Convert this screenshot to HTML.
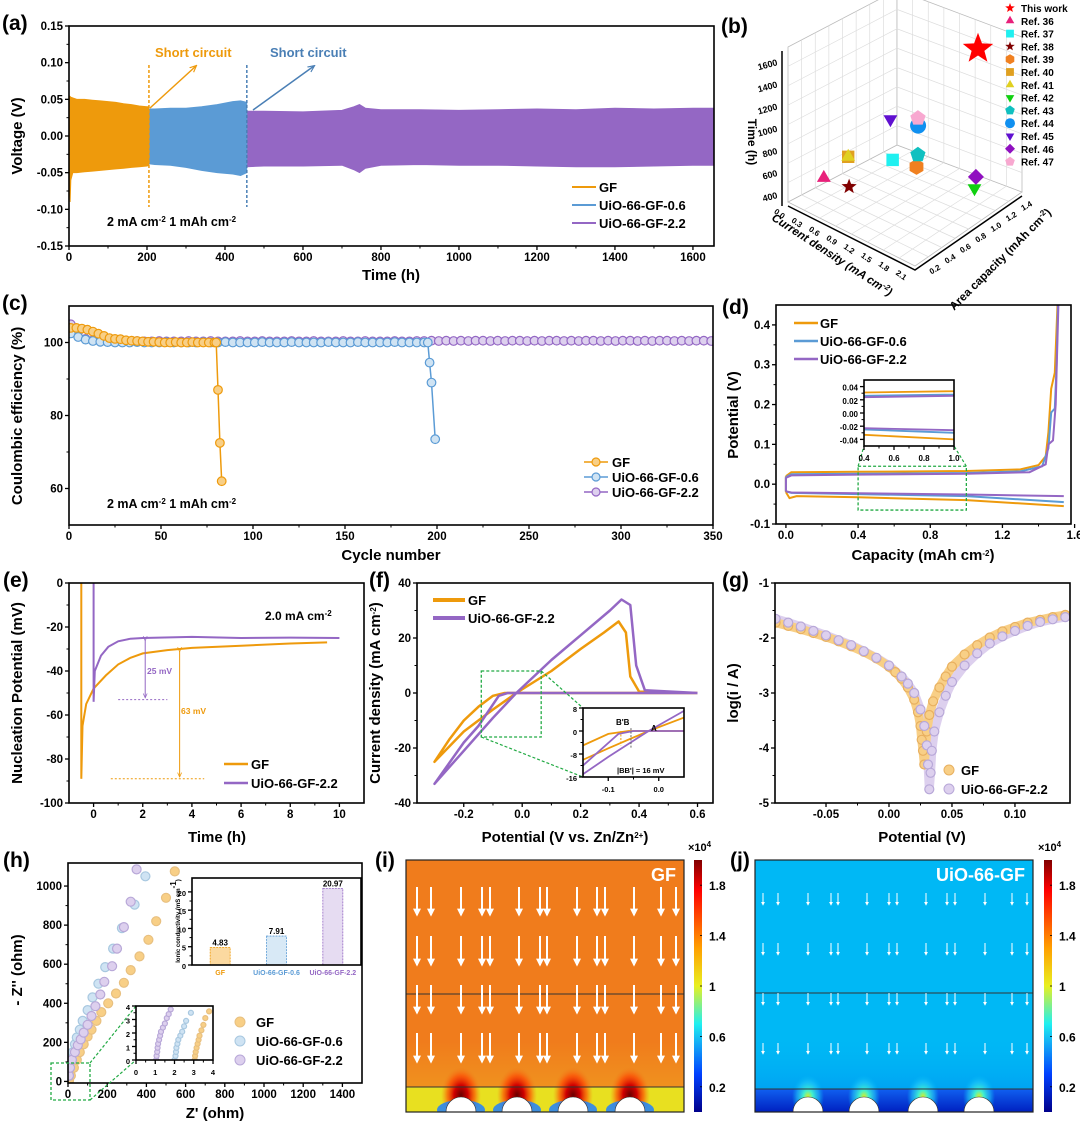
<!DOCTYPE html>
<html><head><meta charset="utf-8"><title>Figure</title>
<style>
html,body{margin:0;padding:0;background:#fff;}
svg{display:block;font-family:"Liberation Sans",Arial,sans-serif;font-weight:bold;}
</style></head>
<body>
<svg id="fig" xmlns="http://www.w3.org/2000/svg" width="1080" height="1129" viewBox="0 0 1080 1129">
<defs>
<linearGradient id="jet" x1="0" y1="0" x2="0" y2="1">
<stop offset="0" stop-color="#800000"/><stop offset="0.12" stop-color="#ff0000"/><stop offset="0.35" stop-color="#ffa000"/><stop offset="0.5" stop-color="#e8f020"/><stop offset="0.65" stop-color="#20f0f0"/><stop offset="0.85" stop-color="#0040ff"/><stop offset="1" stop-color="#00008a"/>
</linearGradient>
<radialGradient id="hotspot"><stop offset="0" stop-color="#6a0000"/><stop offset="0.35" stop-color="#d00000"/><stop offset="0.7" stop-color="#ff4000" stop-opacity="0.6"/><stop offset="1" stop-color="#f07c1c" stop-opacity="0"/></radialGradient>
<radialGradient id="coolspot"><stop offset="0" stop-color="#e0f020"/><stop offset="0.3" stop-color="#40f0d0"/><stop offset="0.7" stop-color="#20c8f8" stop-opacity="0.6"/><stop offset="1" stop-color="#00b8f5" stop-opacity="0"/></radialGradient>
<linearGradient id="ibottom" x1="0" y1="0" x2="0" y2="1"><stop offset="0" stop-color="#f0a020" stop-opacity="0"/><stop offset="1" stop-color="#f0a020"/></linearGradient>
<linearGradient id="jbottom" x1="0" y1="0" x2="0" y2="1"><stop offset="0" stop-color="#1060f0"/><stop offset="1" stop-color="#0020c0"/></linearGradient>
<linearGradient id="jmid" x1="0" y1="0" x2="0" y2="1"><stop offset="0" stop-color="#00b8f5" stop-opacity="0"/><stop offset="1" stop-color="#0090f0"/></linearGradient>
<marker id="ahw" viewBox="0 0 10 10" refX="8" refY="5" markerWidth="4" markerHeight="4" orient="auto"><path d="M0,0 L10,5 L0,10 z" fill="#fff"/></marker>
<marker id="ahs" viewBox="0 0 10 10" refX="8" refY="5" markerWidth="5" markerHeight="5" orient="auto"><path d="M0,1 L9,5 L0,9" fill="none" stroke="context-stroke" stroke-width="1.5"/></marker>
</defs>
</svg>
<script>
// ---------- data ----------
const aGFt=[0,3,5,10,20,40,60,80,100,120,140,160,180,200,205];
const aGFup=[0.055,0.054,0.053,0.052,0.05,0.05,0.049,0.048,0.047,0.046,0.044,0.043,0.041,0.04,0.04];
const aGFlo=[-0.05,-0.09,-0.06,-0.05,-0.05,-0.049,-0.048,-0.047,-0.046,-0.045,-0.044,-0.043,-0.042,-0.041,-0.04];
const aBt=[205,220,260,300,340,380,420,440,456];
const aBup=[0.037,0.037,0.038,0.038,0.040,0.043,0.047,0.048,0.046];
const aBlo=[-0.038,-0.039,-0.040,-0.043,-0.047,-0.05,-0.052,-0.054,-0.05];
const aPt=[456,500,600,700,730,745,760,800,900,1000,1100,1200,1300,1400,1500,1600,1654];
const aPup=[0.034,0.034,0.033,0.035,0.040,0.043,0.038,0.036,0.036,0.035,0.036,0.037,0.036,0.038,0.037,0.038,0.038];
const aPlo=[-0.042,-0.041,-0.041,-0.04,-0.046,-0.050,-0.044,-0.04,-0.039,-0.04,-0.04,-0.041,-0.042,-0.042,-0.041,-0.04,-0.04];
const aXticks=[0,200,400,600,800,1000,1200,1400,1600];
const aYticks=[-0.15,-0.10,-0.05,0,0.05,0.10,0.15];
const aYlabels=["-0.15","-0.10","-0.05","0.00","0.05","0.10","0.15"];

const refNames=["This work","Ref. 36","Ref. 37","Ref. 38","Ref. 39","Ref. 40","Ref. 41","Ref. 42","Ref. 43","Ref. 44","Ref. 45","Ref. 46","Ref. 47"];
const refShapes=["star","tri","sq","star","hex","sq","tri","dtri","pent","circ","dtri","diam","pent"];
const refColors=["#ff0000","#e8207a","#20f0f0","#800000","#f08020","#e0a020","#e0d020","#10d010","#10c0c0","#1090f0","#6010d0","#9010c0","#f8a8d0"];
const refCD=[1.85,0.25,0.92,0.55,1.1,0.59,0.59,1.83,1.18,1.32,0.95,1.84,1.29];
const refAC=[1.15,0.37,0.75,0.47,0.92,0.43,0.43,1.12,0.88,0.78,0.70,1.13,0.80];
const refT=[1650,450,600,400,500,700,700,400,650,1000,1000,500,1050];

const cGFcyc=[1,4,7,10,13,16,19,22,25,28,31,34,37,40,43,46,49,52,55,58,61,64,67,70,73,76,79,80,81,82,83];
const cGFval=[104,104,103.8,103.5,103,102.4,101.8,101.2,101,100.9,100.6,100.5,100.4,100.3,100.2,100.2,100.1,100,100,100.1,100,100,100.1,100,100,100,100,100,87,72.5,62];
const cBcyc=[1,5,9,13,17,21,25,29,33,37,41,45,49,53,57,61,65,69,73,77,81,85,89,93,97,101,105,109,113,117,121,125,129,133,137,141,145,149,153,157,161,165,169,173,177,181,185,189,193,195,196,197,199];
const cBval=[102.5,101.5,100.8,100.4,100.2,100.1,100,100,100,100.1,100,100,100,100.1,100,100,100,100,100.1,100,100,100.1,100,100,100,100,100.1,100,100,100,100.1,100,100,100,100,100.1,100,100,100,100.1,100,100,100,100,100.1,100,100,100,100,100,94.5,89,73.5];
const cPcyc=[1,5,9,13,17,21,25,29,33,37,41,45,49,53,57,61,65,69,73,77,81,85,89,93,97,101,105,109,113,117,121,125,129,133,137,141,145,149,153,157,161,165,169,173,177,181,185,189,193,197,201,205,209,213,217,221,225,229,233,237,241,245,249,253,257,261,265,269,273,277,281,285,289,293,297,301,305,309,313,317,321,325,329,333,337,341,345,349];
const cPval=[105,103,101,100.6,100.5,100.4,100.4,100.3,100.3,100.4,100.3,100.3,100.4,100.3,100.3,100.3,100.4,100.3,100.3,100.4,100.3,100.3,100.3,100.4,100.3,100.3,100.4,100.3,100.3,100.3,100.4,100.3,100.3,100.4,100.3,100.3,100.3,100.4,100.3,100.3,100.4,100.3,100.3,100.3,100.4,100.3,100.3,100.4,100.4,100.5,100.4,100.5,100.4,100.5,100.4,100.5,100.5,100.4,100.5,100.4,100.5,100.5,100.4,100.5,100.4,100.5,100.5,100.4,100.5,100.4,100.5,100.5,100.4,100.5,100.4,100.5,100.5,100.4,100.5,100.4,100.5,100.5,100.4,100.5,100.4,100.5,100.5,100.4];

const dGFup=[[0,0.02],[0.03,0.03],[0.4,0.031],[1.0,0.033],[1.3,0.037],[1.4,0.048],[1.44,0.07],[1.455,0.13],[1.47,0.24],[1.49,0.28],[1.505,0.45]];
const dGFlo=[[0,-0.02],[0.02,-0.035],[0.06,-0.03],[0.4,-0.033],[1.0,-0.04],[1.54,-0.055]];
const dBup=[[0,0.018],[0.03,0.025],[0.4,0.026],[1.0,0.028],[1.3,0.032],[1.42,0.045],[1.455,0.09],[1.47,0.18],[1.49,0.19],[1.5,0.3],[1.508,0.45]];
const dBlo=[[0,-0.018],[0.03,-0.022],[0.4,-0.025],[1.0,-0.03],[1.54,-0.045]];
const dPup=[[0,0.016],[0.03,0.022],[0.4,0.024],[1.0,0.026],[1.35,0.03],[1.44,0.05],[1.455,0.1],[1.48,0.11],[1.495,0.2],[1.51,0.45]];
const dPlo=[[0,-0.018],[0.03,-0.021],[0.4,-0.023],[1.0,-0.026],[1.54,-0.03]];

const eGF=[[-0.5,0],[-0.5,-89],[-0.45,-65],[-0.3,-55],[0,-48],[0.5,-42],[1,-37],[1.5,-34],[2,-32],[3,-30.5],[4,-29.5],[6,-28.5],[8,-27.5],[9.5,-27]];
const ePur=[[0,0],[0,-54],[0.05,-40],[0.3,-33],[0.6,-29],[1,-26.5],[1.5,-25.3],[2,-25],[4,-24.5],[6,-25],[8,-24.8],[10,-25]];

const fGF=[[0.6,0],[-0.06,0],[-0.1,-1],[-0.15,-5],[-0.2,-10],[-0.25,-17],[-0.3,-25],[-0.2,-14],[-0.1,-6],[-0.02,0],[0.1,8],[0.2,16],[0.28,22],[0.33,26],[0.355,22],[0.37,6],[0.4,0.5],[0.6,0]];
const fPur=[[0.6,0],[-0.05,0],[-0.08,-1],[-0.15,-12],[-0.2,-18],[-0.3,-33],[-0.2,-21],[-0.1,-9],[-0.02,0],[0.1,12],[0.2,21],[0.3,30],[0.34,34],[0.37,32],[0.39,10],[0.42,1],[0.6,0]];

const gGF=[[-0.09,-1.72],[-0.08,-1.78],[-0.07,-1.84],[-0.06,-1.91],[-0.05,-1.98],[-0.04,-2.06],[-0.03,-2.15],[-0.02,-2.25],[-0.01,-2.37],[0,-2.52],[0.005,-2.62],[0.01,-2.74],[0.015,-2.9],[0.02,-3.12],[0.023,-3.35],[0.025,-3.6],[0.026,-3.85],[0.027,-4.05],[0.028,-4.3],[0.03,-3.7],[0.032,-3.4],[0.035,-3.15],[0.04,-2.9],[0.045,-2.7],[0.05,-2.52],[0.06,-2.3],[0.07,-2.13],[0.08,-1.99],[0.09,-1.88],[0.1,-1.8],[0.11,-1.72],[0.12,-1.67],[0.13,-1.62],[0.14,-1.58]];
const gPur=[[-0.09,-1.65],[-0.08,-1.72],[-0.07,-1.79],[-0.06,-1.87],[-0.05,-1.95],[-0.04,-2.04],[-0.03,-2.13],[-0.02,-2.24],[-0.01,-2.36],[0,-2.5],[0.01,-2.7],[0.015,-2.83],[0.02,-3.0],[0.025,-3.3],[0.028,-3.6],[0.03,-3.95],[0.031,-4.3],[0.032,-4.75],[0.033,-4.45],[0.034,-4.05],[0.036,-3.7],[0.04,-3.35],[0.045,-3.05],[0.05,-2.8],[0.06,-2.5],[0.07,-2.28],[0.08,-2.1],[0.09,-1.97],[0.1,-1.87],[0.11,-1.78],[0.12,-1.71],[0.13,-1.66],[0.14,-1.62]];

const hGF=[[5,5],[15,30],[30,70],[45,110],[60,150],[80,190],[100,230],[120,265],[145,310],[170,355],[205,400],[245,450],[285,505],[320,570],[365,640],[410,725],[450,820],[500,940],[545,1075]];
const hB=[[5,30],[10,70],[15,110],[25,150],[35,190],[45,225],[60,265],[75,310],[100,365],[125,430],[155,500],[190,585],[230,680],[275,785],[340,905],[395,1050]];
const hP=[[5,30],[10,70],[20,110],[35,150],[50,185],[65,215],[80,250],[100,290],[120,335],[140,385],[165,445],[185,510],[225,590],[250,680],[285,790],[320,920],[350,1085]];
const hiGF=[[3.05,0],[3.07,0.3],[3.1,0.6],[3.15,0.9],[3.2,1.2],[3.25,1.5],[3.3,1.8],[3.4,2.2],[3.5,2.6],[3.6,3.1],[3.8,3.6]];
const hiB=[[2,0],[2.05,0.3],[2.08,0.6],[2.1,0.9],[2.15,1.2],[2.2,1.5],[2.3,1.8],[2.4,2.1],[2.5,2.5],[2.6,2.9],[2.85,3.5]];
const hiP=[[1.05,0],[1.07,0.3],[1.1,0.6],[1.12,0.9],[1.15,1.2],[1.2,1.5],[1.25,1.8],[1.3,2.1],[1.4,2.4],[1.5,2.7],[1.6,3.1],[1.7,3.4],[1.8,3.75]];
const barCats=["GF","UiO-66-GF-0.6","UiO-66-GF-2.2"];
const barVals=[4.83,7.91,20.97];
const barLabels=["4.83","7.91","20.97"];
const cbarLabels=["1.8","1.4","1","0.6","0.2"];
const cbarVals=[1.8,1.4,1.0,0.6,0.2];

// ---------- helpers ----------
const NS='http://www.w3.org/2000/svg';
const svg=document.getElementById('fig');
function mk(tag,attrs,name,parent){
  const el=document.createElementNS(NS,tag);
  for(const k in attrs) el.setAttribute(k,attrs[k]);
  
  
  (parent||svg).appendChild(el);
  return el;
}
function T(x,y,html,o,name,parent){
  o=o||{};
  const el=mk('text',{x:x,y:y,'font-size':o.fs||12,'text-anchor':o.anchor||'start',fill:o.fill||'#000','font-style':o.italic?'italic':'normal',transform:o.rot!==undefined?`rotate(${o.rot} ${x} ${y})`:''},name,parent);
  el.innerHTML=html;
  return el;
}
const sup=s=>`<tspan baseline-shift="super" font-size="8">${s}</tspan>`;
const lin=(d0,d1,r0,r1)=>v=>r0+(v-d0)*(r1-r0)/(d1-d0);
let clipId=0;
function panel(p){
  const g=mk('g',{},p.name);
  p.sx=lin(p.xd[0],p.xd[1],p.x0,p.x1);
  p.sy=lin(p.yd[0],p.yd[1],p.y1,p.y0);
  const id='clip'+(clipId++);
  const cp=mk('clipPath',{id:id},p.name+'-clip',g);
  mk('rect',{x:p.x0,y:p.y0,width:p.x1-p.x0,height:p.y1-p.y0},p.name+'-clip-rect',cp);
  p.g=g; p.plot=mk('g',{'clip-path':`url(#${id})`},p.name+'-plot-area',g);
  const fs=p.fs||11.5;
  const xa=mk('g',{},p.name+'-x-axis',g);
  p.xt.forEach((v,i)=>{
    const x=p.sx(v);
    mk('line',{x1:x,y1:p.y1,x2:x,y2:p.y1+4,stroke:'#000','stroke-width':1.3},'x-tick',xa);
    T(x,p.y1+15,p.xl[i],{fs:fs,anchor:'middle'},'x-tick-label',xa);
    if(i<p.xt.length-1){const xm=p.sx((v+p.xt[i+1])/2);
      if(xm<p.x1) mk('line',{x1:xm,y1:p.y1,x2:xm,y2:p.y1+2.5,stroke:'#000','stroke-width':1},'x-minor-tick',xa);}
  });
  const ya=mk('g',{},p.name+'-y-axis',g);
  p.yt.forEach((v,i)=>{
    const y=p.sy(v);
    mk('line',{x1:p.x0-4,y1:y,x2:p.x0,y2:y,stroke:'#000','stroke-width':1.3},'y-tick',ya);
    T(p.x0-6,y+4,p.yl[i],{fs:fs,anchor:'end'},'y-tick-label',ya);
    if(i<p.yt.length-1){const ym=p.sy((v+p.yt[i+1])/2);
      mk('line',{x1:p.x0-2.5,y1:ym,x2:p.x0,y2:ym,stroke:'#000','stroke-width':1},'y-minor-tick',ya);}
  });
  if(p.xtitle) T(p.xtitle[1],p.xtitle[2],p.xtitle[0],{fs:p.tfs||15,anchor:'middle'},p.name+'-x-axis-title',g);
  if(p.ytitle) T(p.ytitle[1],p.ytitle[2],p.ytitle[0],{fs:p.tfs||15,anchor:'middle',rot:-90},p.name+'-y-axis-title',g);
  p.frame=()=>mk('rect',{x:p.x0,y:p.y0,width:p.x1-p.x0,height:p.y1-p.y0,fill:'none',stroke:'#000','stroke-width':1.6},p.name+'-frame',g);
  return p;
}
function path(p,pts,attrs,name,parent){
  const d=pts.map((q,i)=>(i?'L':'M')+p.sx(q[0]).toFixed(1)+','+p.sy(q[1]).toFixed(1)).join(' ');
  return mk('path',Object.assign({d:d,fill:'none'},attrs),name,parent||p.plot);
}
function label(x,y,s,name){T(x,y,s,{fs:21},name);}

const OR='#ee9a0c', BL='#5b9bd5', PU='#9467c4';
const ORl='#f8cf86', BLl='#cfe3f3', PUl='#ddd0ee';

// ---------- (a) ----------
label(2,30,'(a)','panel-label-a');
const A=panel({name:'panel-a',x0:69,x1:714,y0:26,y1:246,xd:[0,1654],yd:[-0.15,0.15],xt:aXticks,xl:aXticks.map(String),yt:aYticks,yl:aYlabels,xtitle:['Time (h)',391,280],ytitle:['Voltage (V)',22,136]});
function band(t,up,lo,col,name){
  const pts=t.map((v,i)=>[v,up[i]]).concat(t.map((v,i)=>[v,lo[i]]).reverse());
  const d=pts.map((q,i)=>(i?'L':'M')+A.sx(q[0]).toFixed(1)+','+A.sy(q[1]).toFixed(1)).join(' ')+'Z';
  mk('path',{d:d,fill:col,stroke:col,'stroke-width':0.8},name,A.plot);
}
band(aPt,aPup,aPlo,PU,'series-uio-66-gf-2.2');
band(aBt,aBup,aBlo,BL,'series-uio-66-gf-0.6');
band(aGFt,aGFup,aGFlo,OR,'series-gf');
A.frame();
mk('line',{x1:A.sx(205),y1:65,x2:A.sx(205),y2:207,stroke:OR,'stroke-width':1.5,'stroke-dasharray':'3,2'},'short-circuit-line-gf');
mk('line',{x1:A.sx(456),y1:65,x2:A.sx(456),y2:207,stroke:'#4a7fb5','stroke-width':1.5,'stroke-dasharray':'3,2'},'short-circuit-line-uio-0.6');
mk('line',{x1:150,y1:108,x2:196,y2:66,stroke:OR,'stroke-width':1.5,'marker-end':'url(#ahs)'},'short-circuit-arrow-gf');
mk('line',{x1:253,y1:110,x2:314,y2:66,stroke:'#4a7fb5','stroke-width':1.5,'marker-end':'url(#ahs)'},'short-circuit-arrow-uio');
T(155,57,'Short circuit',{fs:13,fill:OR},'short-circuit-label-gf');
T(270,57,'Short circuit',{fs:13,fill:'#4a7fb5'},'short-circuit-label-uio');
T(107,226,'2 mA cm'+sup('-2')+'  1 mAh cm'+sup('-2'),{fs:12.5},'condition-label-a');
[[OR,'GF'],[BL,'UiO-66-GF-0.6'],[PU,'UiO-66-GF-2.2']].forEach((l,i)=>{
  mk('line',{x1:572,y1:187+18*i,x2:596,y2:187+18*i,stroke:l[0],'stroke-width':2},'legend-line');
  T(599,192+18*i,l[1],{fs:13},'legend-entry');
});

// ---------- (b) ----------
label(721,33,'(b)','panel-label-b');
const gb=mk('g',{},'panel-b-3d');
const PA=[788,202],PB=[915,266],PC=[1022,192],PD=[897,145],H=155;
function poly(pts,attrs,name){mk('polygon',Object.assign({points:pts.map(p=>p.join(',')).join(' ')},attrs),name,gb);}
const up=p=>[p[0],p[1]-H];
poly([PA,PB,PC,PD],{fill:'#fff',stroke:'#bbb','stroke-width':0.8},'floor');
poly([PA,PD,up(PD),up(PA)],{fill:'#fff',stroke:'#bbb','stroke-width':0.8},'left-wall');
poly([PD,PC,up(PC),up(PD)],{fill:'#fff',stroke:'#bbb','stroke-width':0.8},'right-wall');
const L=(p,q,t)=>[p[0]+(q[0]-p[0])*t,p[1]+(q[1]-p[1])*t];
for(let i=1;i<8;i++){const t=i/8;
  let a=L(PA,PB,t),b=L(PD,PC,t); mk('line',{x1:a[0],y1:a[1],x2:b[0],y2:b[1],stroke:'#ddd','stroke-width':0.7},'grid-line',gb);
  a=L(PA,PD,t);b=L(PB,PC,t); mk('line',{x1:a[0],y1:a[1],x2:b[0],y2:b[1],stroke:'#ddd','stroke-width':0.7},'grid-line',gb);
  a=L(PA,PD,t); mk('line',{x1:a[0],y1:a[1],x2:a[0],y2:a[1]-H,stroke:'#ddd','stroke-width':0.7},'grid-line',gb);
  a=L(PD,PC,t); mk('line',{x1:a[0],y1:a[1],x2:a[0],y2:a[1]-H,stroke:'#ddd','stroke-width':0.7},'grid-line',gb);
  const h=H*t; mk('polyline',{points:`${PA[0]},${PA[1]-h} ${PD[0]},${PD[1]-h} ${PC[0]},${PC[1]-h}`,fill:'none',stroke:'#ddd','stroke-width':0.7},'grid-line',gb);
}
mk('line',{x1:PA[0]-6,y1:PA[1]+4,x2:PA[0]-6,y2:PA[1]-H+4,stroke:'#000','stroke-width':1.5},'time-axis',gb);
mk('polyline',{points:`${PA[0]},${PA[1]+4} ${PB[0]},${PB[1]+4} ${PC[0]},${PC[1]+4}`,fill:'none',stroke:'#000','stroke-width':1.5},'floor-axes',gb);
const bTimeTicks=[400,600,800,1000,1200,1400,1600];
const bTy=t=>PA[1]+4-(t-300)*(H/1400);
bTimeTicks.forEach(t=>T(778,bTy(t)+3,String(t),{fs:9,anchor:'end',rot:-15},'time-tick-label',gb));
const cdTicks=['0.0','0.3','0.6','0.9','1.2','1.5','1.8','2.1'];
cdTicks.forEach((s,i)=>{const p=L(PA,PB,i/7.3);T(p[0]-10,p[1]+14,s,{fs:8,anchor:'middle',rot:35},'current-density-tick-label',gb);});
const acTicks=['0.2','0.4','0.6','0.8','1.0','1.2','1.4'];
acTicks.forEach((s,i)=>{const p=L(PB,PC,(i+0.6)/7);T(p[0]+12,p[1]+12,s,{fs:8,anchor:'middle',rot:-30},'area-capacity-tick-label',gb);});
T(748,142,'Time (h)',{fs:12,anchor:'middle',rot:90},'time-axis-title',gb);
T(830,258,'Current density (mA cm'+sup('-2')+')',{fs:11.5,anchor:'middle',rot:33,italic:true},'current-density-axis-title',gb);
T(1003,262,'Area capacity (mAh cm'+sup('-2')+')',{fs:11.5,anchor:'middle',rot:-45},'area-capacity-axis-title',gb);
function proj(cd,ac,t){const a=cd/2.2,b=(ac-0.1)/1.35;
  return [PA[0]+127*a+107*b, PA[1]+64*a-74*b-(t-300)*(H/1400)];}
function marker(type,cx,cy,r,col,name,parent){
  let pts=[];
  const reg=(n,rot,rr)=>{for(let i=0;i<n;i++){const a=rot+i*2*Math.PI/n;pts.push([cx+rr*Math.cos(a),cy+rr*Math.sin(a)]);}};
  if(type==='circ'){mk('circle',{cx:cx,cy:cy,r:r,fill:col},name,parent);return;}
  if(type==='star'){for(let i=0;i<10;i++){const a=-Math.PI/2+i*Math.PI/5,rr=i%2?r*0.42:r;pts.push([cx+rr*Math.cos(a),cy+rr*Math.sin(a)]);}}
  else if(type==='tri') reg(3,-Math.PI/2,r);
  else if(type==='dtri') reg(3,Math.PI/2,r);
  else if(type==='sq') reg(4,Math.PI/4,r*1.1);
  else if(type==='diam') reg(4,0,r);
  else if(type==='hex') reg(6,Math.PI/6,r);
  else if(type==='pent') reg(5,-Math.PI/2,r);
  mk('polygon',{points:pts.map(p=>p.map(v=>v.toFixed(1)).join(',')).join(' '),fill:col},name,parent);
}
refNames.forEach((n,i)=>{const p=proj(refCD[i],refAC[i],refT[i]);
  marker(refShapes[i],p[0],p[1],i===0?16:8,refColors[i],'marker-'+n.toLowerCase().replace(/[ .]+/g,'-'),gb);});
refNames.forEach((n,i)=>{const y=8+12.8*i;
  marker(refShapes[i],1010,y,5,refColors[i],'legend-marker',gb);
  T(1021,y+4,n,{fs:10},'legend-entry',gb);});

// ---------- (c) ----------
label(2,310,'(c)','panel-label-c');
const C=panel({name:'panel-c',x0:69,x1:713,y0:306,y1:525,xd:[0,350],yd:[50,110],xt:[0,50,100,150,200,250,300,350],xl:['0','50','100','150','200','250','300','350'],yt:[60,80,100],yl:['60','80','100'],xtitle:['Cycle number',391,560],ytitle:['Coulombic efficiency (%)',22,416]});
function circles(p,cx,cy,r,fill,stroke,name,parent){cx.forEach((v,i)=>mk('circle',{cx:p.sx(v).toFixed(1),cy:p.sy(cy[i]).toFixed(1),r:r,fill:fill,stroke:stroke,'stroke-width':1.2},name,parent||p.plot));}
path(C,cPcyc.map((c,i)=>[c,cPval[i]]),{stroke:PU,'stroke-width':1.5},'series-uio-66-gf-2.2-line');
circles(C,cPcyc,cPval,4.3,PUl,PU,'point-uio-66-gf-2.2');
path(C,cBcyc.map((c,i)=>[c,cBval[i]]),{stroke:BL,'stroke-width':1.5},'series-uio-66-gf-0.6-line');
circles(C,cBcyc,cBval,4.3,BLl,BL,'point-uio-66-gf-0.6');
path(C,cGFcyc.map((c,i)=>[c,cGFval[i]]),{stroke:OR,'stroke-width':1.5},'series-gf-line');
circles(C,cGFcyc,cGFval,4.3,ORl,OR,'point-gf');
C.frame();
T(107,508,'2 mA cm'+sup('-2')+'  1 mAh cm'+sup('-2'),{fs:12.5},'condition-label-c');
[[OR,ORl,'GF'],[BL,BLl,'UiO-66-GF-0.6'],[PU,PUl,'UiO-66-GF-2.2']].forEach((l,i)=>{const y=462+15*i;
  mk('line',{x1:584,y1:y,x2:608,y2:y,stroke:l[0],'stroke-width':1.5},'legend-line');
  mk('circle',{cx:596,cy:y,r:4,fill:l[1],stroke:l[0],'stroke-width':1.2},'legend-marker');
  T(612,y+5,l[2],{fs:13},'legend-entry');});

// ---------- (d) ----------
label(722,314,'(d)','panel-label-d');
const D=panel({name:'panel-d',x0:776,x1:1071,y0:305,y1:524,xd:[-0.055,1.58],yd:[-0.1,0.45],xt:[0,0.4,0.8,1.2,1.6],xl:['0.0','0.4','0.8','1.2','1.6'],yt:[-0.1,0,0.1,0.2,0.3,0.4],yl:['-0.1','0.0','0.1','0.2','0.3','0.4'],xtitle:['Capacity (mAh cm'+sup('-2')+')',923,560],ytitle:['Potential (V)',738,415]});
[[dGFup,dGFlo,OR,'gf'],[dBup,dBlo,BL,'uio-66-gf-0.6'],[dPup,dPlo,PU,'uio-66-gf-2.2']].forEach(s=>{
  path(D,s[0],{stroke:s[2],'stroke-width':2},'series-'+s[3]+'-charge');
  path(D,s[1],{stroke:s[2],'stroke-width':2},'series-'+s[3]+'-discharge');
  path(D,[s[0][0],s[1][0]],{stroke:s[2],'stroke-width':2},'series-'+s[3]+'-start');
});
D.frame();
mk('rect',{x:D.sx(0.4),y:D.sy(0.045),width:D.sx(1.0)-D.sx(0.4),height:D.sy(-0.065)-D.sy(0.045),fill:'none',stroke:'#22aa44','stroke-width':1.3,'stroke-dasharray':'3,2'},'zoom-box-d');
mk('line',{x1:D.sx(0.4),y1:D.sy(0.045),x2:864,y2:446,stroke:'#22aa44','stroke-width':1.2,'stroke-dasharray':'3,2'},'zoom-connector');
mk('line',{x1:D.sx(1.0),y1:D.sy(0.045),x2:954,y2:446,stroke:'#22aa44','stroke-width':1.2,'stroke-dasharray':'3,2'},'zoom-connector');
const DI=panel({name:'panel-d-inset',x0:864,x1:954,y0:380,y1:446,xd:[0.4,1.0],yd:[-0.05,0.05],xt:[0.4,0.6,0.8,1.0],xl:['0.4','0.6','0.8','1.0'],yt:[-0.04,-0.02,0,0.02,0.04],yl:['-0.04','-0.02','0.00','0.02','0.04'],fs:8});
mk('rect',{x:864,y:380,width:90,height:66,fill:'#fff'},'inset-bg',DI.plot);
[[dGFup,dGFlo,OR],[dBup,dBlo,BL],[dPup,dPlo,PU]].forEach(s=>{path(DI,s[0],{stroke:s[2],'stroke-width':1.8},'inset-charge');path(DI,s[1],{stroke:s[2],'stroke-width':1.8},'inset-discharge');});
DI.frame();
[[OR,'GF'],[BL,'UiO-66-GF-0.6'],[PU,'UiO-66-GF-2.2']].forEach((l,i)=>{const y=323+18*i;
  mk('line',{x1:794,y1:y,x2:818,y2:y,stroke:l[0],'stroke-width':2.5},'legend-line');
  T(820,y+5,l[1],{fs:13},'legend-entry');});

// ---------- (e) ----------
label(3,587,'(e)','panel-label-e');
const E=panel({name:'panel-e',x0:69,x1:364,y0:583,y1:803,xd:[-1,11],yd:[-100,0],xt:[0,2,4,6,8,10],xl:['0','2','4','6','8','10'],yt:[-100,-80,-60,-40,-20,0],yl:['-100','-80','-60','-40','-20','0'],xtitle:['Time (h)',217,842],ytitle:['Nucleation Potential (mV)',22,693]});
path(E,eGF,{stroke:OR,'stroke-width':2},'series-gf');
path(E,ePur,{stroke:PU,'stroke-width':2},'series-uio-66-gf-2.2');
E.frame();
mk('line',{x1:E.sx(1),y1:E.sy(-53),x2:E.sx(3),y2:E.sy(-53),stroke:PU,'stroke-width':1,'stroke-dasharray':'2,2'},'baseline-purple');
mk('line',{x1:E.sx(2.1),y1:E.sy(-26),x2:E.sx(2.1),y2:E.sy(-52),stroke:PU,'stroke-width':1,'marker-end':'url(#ahs)','marker-start':'url(#ahs)'},'overpotential-arrow-purple');
mk('line',{x1:E.sx(0.7),y1:E.sy(-89),x2:E.sx(4.5),y2:E.sy(-89),stroke:OR,'stroke-width':1,'stroke-dasharray':'2,2'},'baseline-orange');
mk('line',{x1:E.sx(3.5),y1:E.sy(-31),x2:E.sx(3.5),y2:E.sy(-88),stroke:OR,'stroke-width':1,'marker-end':'url(#ahs)','marker-start':'url(#ahs)'},'overpotential-arrow-orange');
T(147,674,'25 mV',{fs:8.5,fill:PU},'label-25mv');
T(181,714,'63 mV',{fs:8.5,fill:OR},'label-63mv');
T(265,620,'2.0 mA cm'+sup('-2'),{fs:12},'current-label-e');
[[OR,'GF'],[PU,'UiO-66-GF-2.2']].forEach((l,i)=>{const y=764+19*i;
  mk('line',{x1:224,y1:y,x2:248,y2:y,stroke:l[0],'stroke-width':2.5},'legend-line');
  T(251,y+5,l[1],{fs:13},'legend-entry');});

// ---------- (f) ----------
label(369,587,'(f)','panel-label-f');
const F=panel({name:'panel-f',x0:417,x1:713,y0:583,y1:803,xd:[-0.36,0.653],yd:[-40,40],xt:[-0.2,0,0.2,0.4,0.6],xl:['-0.2','0.0','0.2','0.4','0.6'],yt:[-40,-20,0,20,40],yl:['-40','-20','0','20','40'],xtitle:['Potential (V vs. Zn/Zn'+sup('2+')+')',565,842],ytitle:['Current density (mA cm'+sup('-2')+')',380,693]});
path(F,fGF,{stroke:OR,'stroke-width':2.5,'stroke-linejoin':'round'},'series-gf');
path(F,fPur,{stroke:PU,'stroke-width':2.5,'stroke-linejoin':'round'},'series-uio-66-gf-2.2');
F.frame();
const fbx0=F.sx(-0.14),fbx1=F.sx(0.065),fby0=F.sy(8),fby1=F.sy(-16);
mk('rect',{x:fbx0,y:fby0,width:fbx1-fbx0,height:fby1-fby0,fill:'none',stroke:'#22aa44','stroke-width':1.3,'stroke-dasharray':'3,2'},'zoom-box-f');
mk('line',{x1:fbx1,y1:fby0,x2:583,y2:708,stroke:'#22aa44','stroke-width':1.2,'stroke-dasharray':'3,2'},'zoom-connector');
mk('line',{x1:fbx0,y1:fby1,x2:583,y2:777,stroke:'#22aa44','stroke-width':1.2,'stroke-dasharray':'3,2'},'zoom-connector');
const FI=panel({name:'panel-f-inset',x0:583,x1:684,y0:708,y1:777,xd:[-0.15,0.05],yd:[-16,8],xt:[-0.1,0],xl:['-0.1','0.0'],yt:[-16,-8,0,8],yl:['-16','-8','0','8'],fs:7.5});
mk('rect',{x:583,y:708,width:101,height:69,fill:'#fff'},'inset-bg',FI.plot);
path(FI,fGF,{stroke:OR,'stroke-width':1.8},'inset-gf');
path(FI,fPur,{stroke:PU,'stroke-width':1.8},'inset-uio');
mk('line',{x1:FI.sx(-0.075),y1:FI.sy(0),x2:FI.sx(-0.075),y2:FI.sy(-5),stroke:OR,'stroke-width':1,'stroke-dasharray':'2,1.5'},'b-prime-marker');
mk('line',{x1:FI.sx(-0.055),y1:FI.sy(1),x2:FI.sx(-0.055),y2:FI.sy(-6),stroke:'#666','stroke-width':1,'stroke-dasharray':'2,1.5'},'b-marker');
FI.frame();
T(616,725,"B'B",{fs:8},'label-bb');
T(651,731,'A',{fs:8},'label-a');
T(617,773,"|BB'| = 16 mV",{fs:7.5},'label-bb-distance');
[[OR,'GF'],[PU,'UiO-66-GF-2.2']].forEach((l,i)=>{const y=600+18*i;
  mk('line',{x1:433,y1:y,x2:465,y2:y,stroke:l[0],'stroke-width':4},'legend-line');
  T(468,y+5,l[1],{fs:13},'legend-entry');});

// ---------- (g) ----------
label(722,587,'(g)','panel-label-g');
const G=panel({name:'panel-g',x0:775,x1:1070,y0:583,y1:803,xd:[-0.0905,0.1437],yd:[-5,-1],xt:[-0.05,0,0.05,0.1],xl:['-0.05','0.00','0.05','0.10'],yt:[-5,-4,-3,-2,-1],yl:['-5','-4','-3','-2','-1'],xtitle:['Potential (V)',922,842],ytitle:['log(i / A)',738,693]});
path(G,gPur,{stroke:PUl,'stroke-width':9,'stroke-linejoin':'round'},'series-uio-66-gf-2.2-band');
path(G,gGF,{stroke:ORl,'stroke-width':9,'stroke-linejoin':'round'},'series-gf-band');
circles(G,gGF.map(q=>q[0]),gGF.map(q=>q[1]),4.5,ORl,'#e8b060','point-gf');
circles(G,gPur.map(q=>q[0]),gPur.map(q=>q[1]),4.5,PUl,'#b8a8d8','point-uio-66-gf-2.2');
G.frame();
[[ORl,'#e8b060','GF'],[PUl,'#b8a8d8','UiO-66-GF-2.2']].forEach((l,i)=>{const y=771+19*i;
  mk('circle',{cx:949,cy:y-1,r:5,fill:l[0],stroke:l[1]},'legend-marker');
  T(961,y+4,l[2],{fs:13},'legend-entry');});

// ---------- (h) ----------
label(3,867,'(h)','panel-label-h');
const Hh=panel({name:'panel-h',x0:68,x1:362,y0:863,y1:1083,xd:[0,1500],yd:[-8,1118],xt:[0,200,400,600,800,1000,1200,1400],xl:['0','200','400','600','800','1000','1200','1400'],yt:[0,200,400,600,800,1000],yl:['0','200','400','600','800','1000'],xtitle:["Z' (ohm)",215,1118],ytitle:["- Z'' (ohm)",22,970]});
circles(Hh,hGF.map(q=>q[0]),hGF.map(q=>q[1]),4.5,ORl,'#e8c080','point-gf');
circles(Hh,hB.map(q=>q[0]),hB.map(q=>q[1]),4.5,BLl,'#a8c8e0','point-uio-66-gf-0.6');
circles(Hh,hP.map(q=>q[0]),hP.map(q=>q[1]),4.5,PUl,'#b8a8d8','point-uio-66-gf-2.2');
Hh.frame();
mk('rect',{x:51,y:1063,width:39,height:37,fill:'none',stroke:'#22aa44','stroke-width':1.3,'stroke-dasharray':'3,2'},'zoom-box-h');
mk('line',{x1:90,y1:1063,x2:136,y2:1006,stroke:'#22aa44','stroke-width':1.2,'stroke-dasharray':'3,2'},'zoom-connector');
mk('line',{x1:90,y1:1100,x2:136,y2:1060,stroke:'#22aa44','stroke-width':1.2,'stroke-dasharray':'3,2'},'zoom-connector');
const HI=panel({name:'panel-h-inset',x0:136,x1:213,y0:1006,y1:1060,xd:[0,4],yd:[0,4],xt:[0,1,2,3,4],xl:['0','1','2','3','4'],yt:[0,1,2,3,4],yl:['0','1','2','3','4'],fs:7.5});
mk('rect',{x:136,y:1006,width:77,height:54,fill:'#fff'},'inset-bg',HI.plot);
circles(HI,hiGF.map(q=>q[0]),hiGF.map(q=>q[1]),2.5,ORl,'#e8c080','inset-point-gf');
circles(HI,hiB.map(q=>q[0]),hiB.map(q=>q[1]),2.5,BLl,'#a8c8e0','inset-point-uio-0.6');
circles(HI,hiP.map(q=>q[0]),hiP.map(q=>q[1]),2.5,PUl,'#b8a8d8','inset-point-uio-2.2');
HI.frame();
const BI=panel({name:'panel-h-bar-inset',x0:192,x1:361,y0:878,y1:965,xd:[0,3],yd:[0,23.8],xt:[],xl:[],yt:[0,5,10,15,20],yl:['0','5','10','15','20'],fs:7.5});
mk('rect',{x:192,y:878,width:169,height:87,fill:'#fff'},'inset-bg',BI.plot);
const barCol=[[ '#fbd9a0',OR],['#d8e9f6',BL],['#e6dcf2',PU]];
barVals.forEach((v,i)=>{const cx=BI.sx(i+0.5),y=BI.sy(v);
  mk('rect',{x:cx-10,y:y,width:20,height:BI.sy(0)-y,fill:barCol[i][0],stroke:barCol[i][1],'stroke-width':0.8,'stroke-dasharray':'2,1'},'bar-'+barCats[i].toLowerCase(),BI.plot);
  T(cx,y-2,barLabels[i],{fs:8,anchor:'middle'},'bar-value-label');
  T(cx,975,barCats[i],{fs:7,anchor:'middle',fill:barCol[i][1]},'bar-category-label');});
BI.frame();
T(180,921,'Ionic conductivity (mS cm'+sup('-1')+')',{fs:6,anchor:'middle',rot:-90},'bar-y-axis-title');
[[ORl,'#e8c080','GF'],[BLl,'#a8c8e0','UiO-66-GF-0.6'],[PUl,'#b8a8d8','UiO-66-GF-2.2']].forEach((l,i)=>{const y=1023+19*i;
  mk('circle',{cx:240,cy:y-1,r:5,fill:l[0],stroke:l[1]},'legend-marker');
  T(256,y+4,l[2],{fs:13},'legend-entry');});

// ---------- (i), (j) ----------
label(375,867,'(i)','panel-label-i');
label(730,867,'(j)','panel-label-j');
const semis=[[461,517,573,630],[808,864,923,979]];
const arrowCols=[[417,431,461,482,490,519,540,547,577,597,605,634,661,676],[763,778,808,831,838,867,889,897,926,947,955,985,1012,1027]];
function field(x0,x1,y0,y1,line1,line2,bg,hot,hotR,sem,cols,big,title,name){
  const g0=mk('g',{},name);
  const cid='fclip'+name;
  const cp=mk('clipPath',{id:cid},name+'-clip',g0);
  mk('rect',{x:x0,y:y0,width:x1-x0,height:y1-y0},name+'-clip-rect',cp);
  const g=mk('g',{'clip-path':`url(#${cid})`},name+'-field',g0);
  mk('rect',{x:x0,y:y0,width:x1-x0,height:y1-y0,fill:bg},name+'-background',g);
  if(big){ mk('rect',{x:x0,y:line2-45,width:x1-x0,height:45,fill:'url(#ibottom)',opacity:0.6},'gradient',g);
    mk('rect',{x:x0,y:line2,width:x1-x0,height:y1-line2,fill:'#e8e020'},'bottom-layer',g);}
  else{ mk('rect',{x:x0,y:y1-80,width:x1-x0,height:80,fill:'url(#jmid)'},'gradient',g);
    mk('rect',{x:x0,y:line2,width:x1-x0,height:y1-line2,fill:'url(#jbottom)'},'bottom-layer',g);}
  sem.forEach(cx=>{
    mk('ellipse',{cx:cx,cy:line2+8,rx:hotR[0],ry:hotR[1],fill:`url(#${hot})`},'field-hotspot',g);
    if(big) mk('ellipse',{cx:cx,cy:y1-2,rx:24,ry:10,fill:'#2080ff',opacity:0.85},'field-low',g);
  });
  mk('line',{x1:x0,y1:line1,x2:x1,y2:line1,stroke:'#333','stroke-width':1},'boundary-line',g);
  mk('line',{x1:x0,y1:line2,x2:x1,y2:line2,stroke:'#333','stroke-width':1},'boundary-line',g);
  const rows=big?[[887,915],[936,965],[985,1013],[1033,1062]]:[[893,905],[943,955],[993,1005],[1043,1054]];
  rows.forEach(r=>cols.forEach(x=>mk('line',{x1:x,y1:r[0],x2:x,y2:r[1],stroke:'#fff','stroke-width':big?2:1,'marker-end':'url(#ahw)'},'flux-arrow',g)));
  sem.forEach(cx=>mk('path',{d:`M${cx-15},${y1} A15,15 0 0 1 ${cx+15},${y1} Z`,fill:'#fff',stroke:'#333','stroke-width':0.6},'zn-deposit',g));
  mk('rect',{x:x0,y:y0,width:x1-x0,height:y1-y0,fill:'none',stroke:'#222','stroke-width':1.2},name+'-frame',g0);
  T(x1-8,y0+21,title,{fs:18,anchor:'end',fill:'#fff'},name+'-title',g0);
}
field(406,684,860,1112,994,1087,'#f07c1c','hotspot',[20,28],semis[0],arrowCols[0],true,'GF','panel-i');
field(755,1033,860,1112,993,1089,'#00b8f5','coolspot',[16,22],semis[1],arrowCols[1],false,'UiO-66-GF','panel-j');
function cbar(x,name){
  const g=mk('g',{},name);
  mk('rect',{x:x,y:860,width:8,height:252,fill:'url(#jet)'},'colorbar',g);
  const sc=lin(0,2.0,1112,860);
  cbarVals.forEach((v,i)=>{T(x+15,sc(v)+5,cbarLabels[i],{fs:12},'colorbar-tick-label',g);
    mk('line',{x1:x+6,y1:sc(v),x2:x+8,y2:sc(v),stroke:'#000','stroke-width':0.8},'colorbar-tick',g);});
  T(x-6,851,'×10'+sup('4'),{fs:11},'colorbar-multiplier',g);
}
cbar(694,'colorbar-i');
cbar(1044,'colorbar-j');
</script>
</body></html>
